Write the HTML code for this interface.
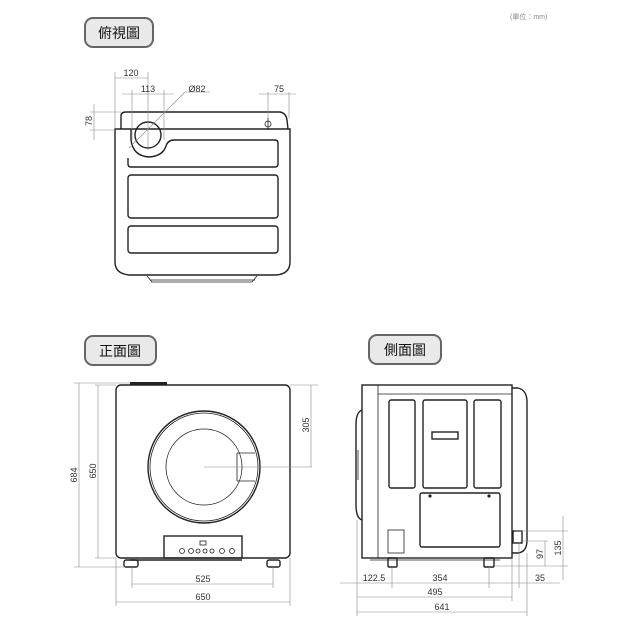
<!DOCTYPE html>
<html><head><meta charset="utf-8"><style>
html,body{margin:0;padding:0;background:#fff;}
svg{display:block;}
text{font-family:"Liberation Sans","Noto Sans CJK TC",sans-serif;fill:#333;}
.l{fill:none;stroke:#222;stroke-width:1.4}
.t{fill:none;stroke:#222;stroke-width:0.8}
.d{fill:none;stroke:#888;stroke-width:0.6}
.lab{fill:#e9e9e9;stroke:#666;stroke-width:2}
</style></head><body>
<svg width="640" height="640" viewBox="0 0 640 640" xmlns="http://www.w3.org/2000/svg">
<rect width="640" height="640" fill="#fff"/>
<!-- labels -->
<rect class="lab" x="85" y="18" width="68" height="29" rx="8"/>
<text x="119" y="38" font-size="14" text-anchor="middle" style="fill:#111">俯視圖</text>
<rect class="lab" x="85" y="336" width="71" height="29" rx="8"/>
<text x="120" y="356" font-size="14" text-anchor="middle" style="fill:#111">正面圖</text>
<rect class="lab" x="369" y="335" width="72" height="29" rx="8"/>
<text x="405" y="355" font-size="14" text-anchor="middle" style="fill:#111">側面圖</text>
<text x="510" y="19" font-size="7" style="fill:#888">(單位：mm)</text>

<!-- TOP VIEW -->
<path class="l" d="M121,129 L121,116 Q121,112 126,112 L280,112 Q286,113 287,120 L288,129"/>
<path class="l" d="M115,129 L290,129 L290,262 Q290,274 276,275 L130,275 Q115,274 115,262 Z"/>
<path class="t" d="M147,276 L152,282 L252,282 L257,276"/>
<path class="t" d="M150,280 L255,280"/>
<path class="l" d="M131,129 L131,140 Q133,156 149,157 Q163,156 166,146 Q168,140 174,140 L275,140 Q278,140 278,143 L278,164 Q278,167 275,167 L131,167 Q128,167 128,164 L128,158"/>
<circle class="l" cx="148" cy="135" r="13"/>
<rect class="l" x="128" y="175" width="150" height="43" rx="3"/>
<rect class="l" x="128" y="226" width="150" height="27" rx="3"/>
<circle class="t" cx="268" cy="124" r="3"/>
<line class="t" x1="268" y1="118" x2="268" y2="130"/>
<!-- top dims -->
<line class="d" x1="115" y1="72" x2="115" y2="129"/>
<line class="d" x1="148" y1="72" x2="148" y2="150"/>
<line class="d" x1="115" y1="78" x2="148" y2="78"/>
<text x="131" y="76" font-size="9" text-anchor="middle">120</text>
<line class="d" x1="132" y1="90" x2="132" y2="140"/>
<line class="d" x1="164" y1="90" x2="164" y2="140"/>
<line class="d" x1="122" y1="94" x2="174" y2="94"/>
<text x="148" y="92" font-size="9" text-anchor="middle">113</text>
<line class="d" x1="129" y1="148" x2="185" y2="92"/>
<line class="d" x1="185" y1="92" x2="210" y2="92"/>
<text x="197" y="92" font-size="9" text-anchor="middle">Ø82</text>
<line class="d" x1="268" y1="92" x2="268" y2="118"/>
<line class="d" x1="289" y1="92" x2="289" y2="118"/>
<line class="d" x1="259" y1="94" x2="296" y2="94"/>
<text x="279" y="92" font-size="9" text-anchor="middle">75</text>
<line class="d" x1="90" y1="112" x2="121" y2="112"/>
<line class="d" x1="90" y1="130" x2="115" y2="130"/>
<line class="d" x1="94" y1="104" x2="94" y2="140"/>
<text x="92" y="121" font-size="9" text-anchor="middle" transform="rotate(-90 92 121)">78</text>

<!-- FRONT VIEW -->
<rect x="130" y="382" width="37" height="3" fill="#222"/>
<rect class="l" x="116" y="385" width="174" height="173" rx="5"/>
<circle class="l" cx="204" cy="467" r="56"/>
<circle class="t" cx="204" cy="467" r="54"/>
<circle class="t" cx="204" cy="467" r="38"/>
<path class="t" d="M237,453 L255,453 M237,481 L255,481 M237,453 L237,481"/>
<line class="d" x1="204" y1="467" x2="312" y2="467"/>
<rect class="l" x="164" y="536" width="78" height="22"/>
<rect class="t" x="200" y="541" width="6" height="4"/>
<g class="t"><circle cx="182" cy="551" r="2.5"/><circle cx="191" cy="551" r="2.5"/><circle cx="198" cy="551" r="2"/><circle cx="205" cy="551" r="2"/><circle cx="212" cy="551" r="2"/><circle cx="222" cy="551" r="2.5"/><circle cx="232" cy="551" r="2.5"/></g>
<line class="l" x1="130" y1="560" x2="242" y2="560"/>
<rect class="l" x="124" y="560" width="14" height="7" rx="2"/>
<rect class="l" x="267" y="560" width="13" height="7" rx="2"/>
<!-- front dims -->
<line class="d" x1="74" y1="383" x2="130" y2="383"/>
<line class="d" x1="74" y1="567" x2="124" y2="567"/>
<line class="d" x1="79" y1="383" x2="79" y2="567"/>
<text x="77" y="475" font-size="9" text-anchor="middle" transform="rotate(-90 77 475)">684</text>
<line class="d" x1="95" y1="385" x2="116" y2="385"/>
<line class="d" x1="95" y1="558" x2="116" y2="558"/>
<line class="d" x1="98" y1="385" x2="98" y2="558"/>
<text x="96" y="471" font-size="9" text-anchor="middle" transform="rotate(-90 96 471)">650</text>
<line class="d" x1="290" y1="385" x2="318" y2="385"/>
<line class="d" x1="311" y1="385" x2="311" y2="467"/>
<text x="309" y="425" font-size="9" text-anchor="middle" transform="rotate(-90 309 425)">305</text>
<line class="d" x1="132" y1="567" x2="132" y2="588"/>
<line class="d" x1="273" y1="567" x2="273" y2="588"/>
<line class="d" x1="132" y1="584" x2="273" y2="584"/>
<text x="203" y="582" font-size="9" text-anchor="middle">525</text>
<line class="d" x1="116" y1="558" x2="116" y2="606"/>
<line class="d" x1="290" y1="558" x2="290" y2="606"/>
<line class="d" x1="116" y1="602" x2="290" y2="602"/>
<text x="203" y="600" font-size="9" text-anchor="middle">650</text>

<!-- SIDE VIEW -->
<rect class="l" x="362" y="385" width="150" height="173"/>
<line class="t" x1="378" y1="385" x2="378" y2="558"/>
<line class="t" x1="378" y1="394" x2="512" y2="394"/>
<path class="l" d="M512,388 L518,388 Q527,390 527,402 L527,540 Q527,552 518,553 L512,553"/>
<path class="l" d="M362,410 Q356,412 356,425 L356,505 Q356,518 362,520"/>
<line class="t" x1="358" y1="450" x2="358" y2="480"/>
<rect class="l" x="389" y="400" width="26" height="88" rx="2"/>
<rect class="l" x="423" y="400" width="44" height="88" rx="2"/>
<rect class="l" x="474" y="400" width="27" height="88" rx="2"/>
<rect class="l" x="432" y="432" width="26" height="7"/>
<rect class="l" x="420" y="493" width="80" height="54" rx="2"/>
<circle cx="430" cy="496" r="1.6" fill="#222"/><circle cx="489" cy="496" r="1.6" fill="#222"/>
<rect class="t" x="388" y="530" width="16" height="23"/>
<rect class="l" x="513" y="531" width="9" height="12"/>
<rect class="l" x="388" y="558" width="9" height="9" rx="1"/>
<rect class="l" x="484" y="558" width="10" height="9" rx="1"/>
<line class="t" x1="370" y1="560" x2="500" y2="560"/>
<!-- side dims -->
<line class="d" x1="357" y1="520" x2="357" y2="616"/>
<line class="d" x1="392" y1="567" x2="392" y2="588"/>
<line class="d" x1="489" y1="567" x2="489" y2="588"/>
<line class="d" x1="512" y1="558" x2="512" y2="601"/>
<line class="d" x1="519" y1="543" x2="519" y2="588"/>
<line class="d" x1="527" y1="553" x2="527" y2="616"/>
<line class="d" x1="340" y1="583" x2="560" y2="583"/>
<text x="374" y="581" font-size="9" text-anchor="middle">122.5</text>
<text x="440" y="581" font-size="9" text-anchor="middle">354</text>
<text x="540" y="581" font-size="9" text-anchor="middle">35</text>
<line class="d" x1="357" y1="597" x2="512" y2="597"/>
<text x="435" y="595" font-size="9" text-anchor="middle">495</text>
<line class="d" x1="357" y1="612" x2="527" y2="612"/>
<text x="442" y="610" font-size="9" text-anchor="middle">641</text>
<line class="d" x1="515" y1="531" x2="568" y2="531"/>
<line class="d" x1="520" y1="541" x2="548" y2="541"/>
<line class="d" x1="495" y1="566" x2="568" y2="566"/>
<line class="d" x1="563" y1="516" x2="563" y2="580"/>
<line class="d" x1="545" y1="541" x2="545" y2="566"/>
<text x="543" y="554" font-size="9" text-anchor="middle" transform="rotate(-90 543 554)">97</text>
<text x="561" y="548" font-size="9" text-anchor="middle" transform="rotate(-90 561 548)">135</text>
</svg>
</body></html>
